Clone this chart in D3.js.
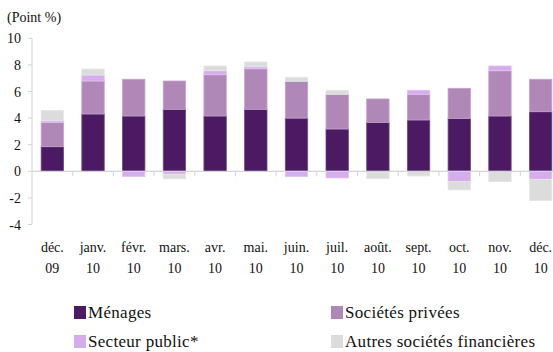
<!DOCTYPE html>
<html><head><meta charset="utf-8">
<script src="https://cdn.jsdelivr.net/npm/d3@7/dist/d3.min.js"></script>
<style>
html,body{margin:0;padding:0;background:#fff;}
</style></head>
<body><svg id="c" width="553" height="352"></svg>
<script>
const months = ["déc.","janv.","févr.","mars.","avr.","mai.","juin.","juil.","août.","sept.","oct.","nov.","déc."];
const years  = ["09","10","10","10","10","10","10","10","10","10","10","10","10"];
const menages  = [1.85, 4.31, 4.16, 4.66, 4.16, 4.66, 4.00, 3.18, 3.68, 3.86, 3.98, 4.16, 4.48];
const privees  = [1.83, 2.48, 2.76, 2.13, 3.10, 3.05, 2.77, 2.61, 1.76, 1.93, 2.26, 3.40, 2.44];
const public_  = [0.12, 0.45, -0.40, -0.22, 0.30, 0.15, -0.40, -0.50, -0.10, 0.30, -0.78, 0.36, -0.60];
const autres   = [0.78, 0.45, 0.00, -0.35, 0.36, 0.36, 0.30, 0.30, -0.45, -0.35, -0.62, -0.78, -1.60];
const seriesNames = ["Ménages","Sociétés privées","Secteur public*","Autres sociétés financières"];
const colors = ["#4b1a63","#b088b8","#d6acec","#dcdcdc"];
const strokes = ["#6e4a82","#c4a3cb","#e2c4f1","#e6e6e6"];
const yTicks = [-4,-2,0,2,4,6,8,10];

// pick an installed serif font
const cv = document.createElement("canvas").getContext("2d");
function w(f){ cv.font = "40px " + f; return cv.measureText("Ménages sociétés 0123 Wiql").width; }
const cands = ["Liberation Serif","Tinos","Times New Roman","Times","DejaVu Serif","Noto Serif","FreeSerif","Nimbus Roman","serif"];
let FONT = "serif";
for (const c of cands) {
  const q = '"' + c + '"';
  if (w(q + ", monospace") !== w("monospace") || w(q + ", sans-serif") !== w("sans-serif")) { FONT = q + ", serif"; break; }
}

const keys = ["m","p","pub","a"];
const rows = months.map((m,i)=>({idx:i, m:menages[i], p:privees[i], pub:public_[i], a:autres[i]}));

const svg = d3.select("#c");
const x = d3.scaleBand().domain(d3.range(months.length)).range([32,561]).paddingInner(0.45).paddingOuter(0.225);
const y = d3.scaleLinear().domain([-4,10]).range([224.5,38.3]);

function txt(xx, yy, s, size, anchor){
  return svg.append("text").attr("x",xx).attr("y",yy).attr("font-family",FONT).attr("fill","#111")
    .attr("font-size",size).attr("text-anchor",anchor||"start").text(s);
}

// y axis
svg.append("line").attr("x1",32).attr("x2",32).attr("y1",y(10)).attr("y2",y(-4)).attr("stroke","#d4d4d4");
yTicks.forEach(t=>{
  svg.append("line").attr("x1",28).attr("x2",32).attr("y1",y(t)).attr("y2",y(t)).attr("stroke","#d4d4d4");
  txt(21, y(t)+5, t, 14, "end");
});
txt(7, 22, "(Point %)", 14);

// bars
const stack = d3.stack().keys(keys).offset(d3.stackOffsetDiverging);
const st = stack(rows);
st.forEach((s,si)=>{
  svg.append("g").selectAll("rect").data(s.filter(d=>d[1]!==d[0])).join("rect")
    .attr("x",d=>x(d.data.idx))
    .attr("width",x.bandwidth())
    .attr("y",d=>y(Math.max(d[0],d[1])))
    .attr("height",d=>Math.abs(y(d[0])-y(d[1])))
    .attr("fill",colors[si])
    .attr("stroke",strokes[si]).attr("stroke-width",0.8);
});

// zero line and ticks
svg.append("line").attr("x1",32).attr("x2",561).attr("y1",y(0)).attr("y2",y(0)).attr("stroke","#d4d4d4").attr("stroke-width",1.2);
d3.range(1,months.length).forEach(i=>{
  const xx = x(i) - x.step()*x.paddingInner()/2;
  svg.append("line").attr("x1",xx).attr("x2",xx).attr("y1",y(0)).attr("y2",y(0)+5).attr("stroke","#d4d4d4");
});

// x labels
months.forEach((m,i)=>{
  const cx = x(i)+x.bandwidth()/2;
  txt(cx, 252, m, 14, "middle");
  txt(cx, 273, years[i], 14, "middle");
});

// legend
const legPos = [[74,312],[331,312],[74,341],[331,341]];
seriesNames.forEach((n,i)=>{
  const [lx,ly] = legPos[i];
  svg.append("rect").attr("x",lx).attr("y",ly-6).attr("width",12).attr("height",13).attr("fill",colors[i]);
  txt(lx+14, ly+6, n, 17).attr("letter-spacing",0.3);
});
</script></body></html>
